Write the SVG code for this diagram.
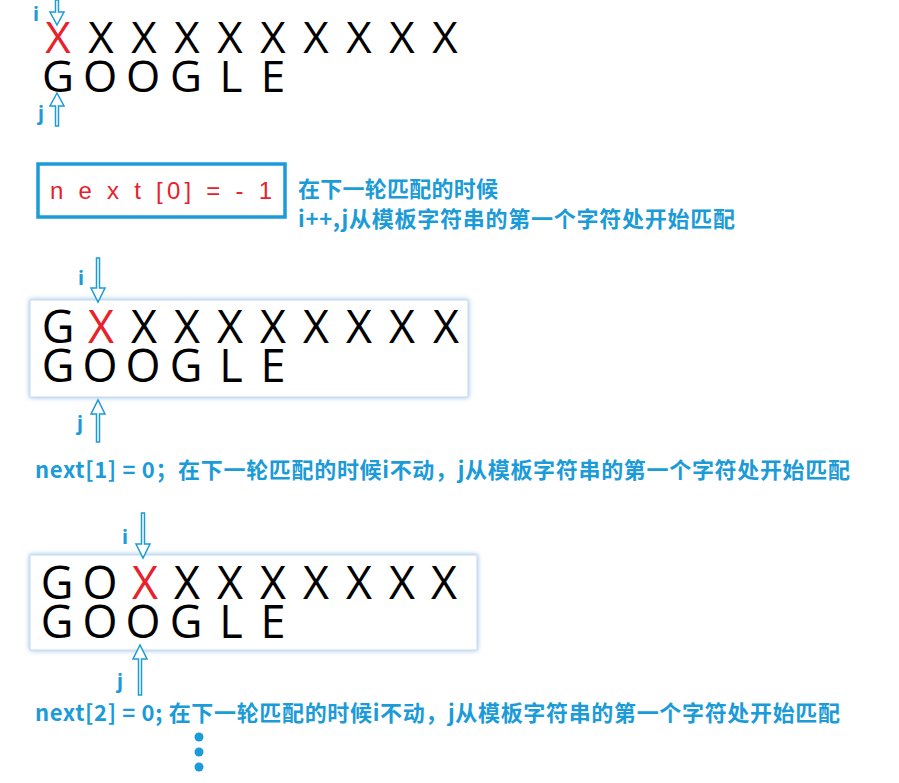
<svg xmlns="http://www.w3.org/2000/svg" width="899" height="783" viewBox="0 0 899 783">
<style>
.big{font-family:"Open Sans","Noto Sans",sans-serif;font-size:44px;fill:#000;text-anchor:middle}
.bx{font-size:45px}
.red{fill:#e8212b}
.lbl{font-family:"Noto Sans CJK SC","Noto Sans",sans-serif;font-weight:bold;font-size:22px;fill:#1b9bd7}
.ij{font-family:"Noto Sans","Noto Sans CJK SC",sans-serif;font-weight:bold;font-size:20px;fill:#1b9bd7}
.arr{fill:#fff;stroke:#1b9bd7;stroke-width:1.5;stroke-linejoin:miter}
.panel{fill:#fff;stroke:#c4daf2;stroke-width:1}
</style>
<defs>
<filter id="glow" x="-10%" y="-20%" width="120%" height="140%">
<feDropShadow dx="0" dy="0" stdDeviation="2.5" flood-color="#5b9bd5" flood-opacity="0.7"/>
</filter>
</defs>

<g id="step0">
<text class="big" x="58 101 144 187 230 273 316 359 402 445" y="53"><tspan class="red">X</tspan>XXXXXXXXX</text>
<text class="big" x="58 100 143 186 231 273" y="92">GOOGLE</text>
</g>

<g id="step0-pointers">
<text class="ij" x="33" y="21">i</text>
<text class="ij" x="38" y="120">j</text>
</g>

<g id="next0">
<rect x="38" y="164" width="247" height="53" fill="#fff" stroke="#1b9bd7" stroke-width="3.5"/>
<text x="50" y="199" textLength="222" lengthAdjust="spacing" font-family="Liberation Sans, sans-serif" font-size="24" fill="#e8212b">n e x t [0] = - 1</text>
<text class="lbl" x="298" y="197" textLength="200" lengthAdjust="spacing">在下一轮匹配的时候</text>
<text class="lbl" x="298" y="227" textLength="437" lengthAdjust="spacing">i++,j从模板字符串的第一个字符处开始匹配</text>
</g>

<g id="step1">
<rect class="panel" x="30" y="300" width="438" height="97" filter="url(#glow)"/>
<text class="big bx" x="58 101 144 187 230 273 316 359 402 446" y="343">G<tspan class="red">X</tspan>XXXXXXXX</text>
<text class="big bx" x="58 100 143 186 231 273" y="382">GOOGLE</text>
<text class="ij" x="78" y="285">i</text>
<text class="ij" x="77" y="430">j</text>
<text class="lbl" x="35" y="478" textLength="815" lengthAdjust="spacing">next[1] = 0；在下一轮匹配的时候i不动，j从模板字符串的第一个字符处开始匹配</text>
</g>

<g id="step2">
<rect class="panel" x="30" y="555" width="447" height="95" filter="url(#glow)"/>
<text class="big bx" x="57 100 145 187 230 273 316 359 402 444" y="599">GO<tspan class="red">X</tspan>XXXXXXX</text>
<text class="big bx" x="57 100 143 186 231 273" y="638">GOOGLE</text>
<text class="ij" x="122" y="544">i</text>
<text class="ij" x="117" y="688">j</text>
<text class="lbl" x="35" y="721" textLength="805" lengthAdjust="spacing">next[2] = 0; 在下一轮匹配的时候i不动，j从模板字符串的第一个字符处开始匹配</text>
<circle cx="199" cy="737" r="4.5" fill="#1b9bd7"/>
<circle cx="199" cy="752" r="4.5" fill="#1b9bd7"/>
<circle cx="199" cy="767" r="4.5" fill="#1b9bd7"/>
</g>

<g id="connectors">
<path class="arr" d="M55.5,0 L58.5,0 L58.5,12 L64,12 L57,25 L50,12 L55.5,12 Z"/>
<path class="arr" d="M55.5,126 L58.5,126 L58.5,106 L64,106 L57,93 L50,106 L55.5,106 Z"/>
<path class="arr" d="M96.5,258 L99.5,258 L99.5,288 L105,288 L98,302 L91,288 L96.5,288 Z"/>
<path class="arr" d="M96.5,442 L99.5,442 L99.5,414 L105,414 L98,400 L91,414 L96.5,414 Z"/>
<path class="arr" d="M141.5,513 L144.5,513 L144.5,544 L150,544 L143,558 L136,544 L141.5,544 Z"/>
<path class="arr" d="M138.5,695 L141.5,695 L141.5,659 L147,659 L140,645 L133,659 L138.5,659 Z"/>
</g>
</svg>
